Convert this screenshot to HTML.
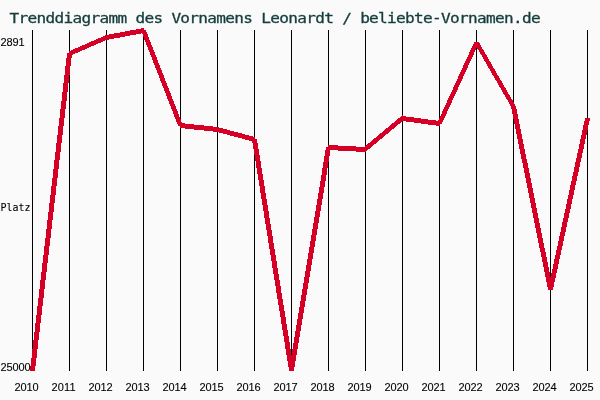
<!DOCTYPE html>
<html lang="de"><head><meta charset="utf-8"><title>Trenddiagramm des Vornamens Leonardt</title>
<style>html,body{margin:0;padding:0;background:#fafafa;}svg{display:block}.t{font-family:"DejaVu Sans Mono","Liberation Mono",monospace;font-size:14px;fill:#153d3d;stroke:#153d3d;stroke-width:0.3px}.l{font-family:"DejaVu Sans Mono","Liberation Mono",monospace;font-size:10.5px;fill:#000;stroke:#000;stroke-width:0.1px}.n{font-family:"Liberation Sans","DejaVu Sans",sans-serif;font-size:11px;fill:#000;stroke:#000;stroke-width:0.1px}</style></head><body>
<svg width="600" height="400" viewBox="0 0 600 400">
<rect width="600" height="400" fill="#fafafa"/>
<g fill="#000" shape-rendering="crispEdges">
<rect x="32" y="30" width="1" height="341"/>
<rect x="69" y="30" width="1" height="341"/>
<rect x="106" y="30" width="1" height="341"/>
<rect x="143" y="30" width="1" height="341"/>
<rect x="180" y="30" width="1" height="341"/>
<rect x="217" y="30" width="1" height="341"/>
<rect x="254" y="30" width="1" height="341"/>
<rect x="291" y="30" width="1" height="341"/>
<rect x="328" y="30" width="1" height="341"/>
<rect x="365" y="30" width="1" height="341"/>
<rect x="402" y="30" width="1" height="341"/>
<rect x="439" y="30" width="1" height="341"/>
<rect x="476" y="30" width="1" height="341"/>
<rect x="513" y="30" width="1" height="341"/>
<rect x="550" y="30" width="1" height="341"/>
<rect x="587" y="30" width="1" height="341"/>
</g>
<g fill="#d60027" shape-rendering="crispEdges">
<polygon points="29.94,371.00 34.94,371.00 72.06,53.00 67.06,53.00"/>
<polygon points="69.00,51.22 107.00,34.78 107.00,39.78 69.00,56.22"/>
<polygon points="106.00,35.09 144.00,27.91 144.00,32.91 106.00,40.09"/>
<polygon points="140.81,30.00 145.81,30.00 183.19,126.00 178.19,126.00"/>
<polygon points="180.00,122.95 218.00,127.05 218.00,132.05 180.00,127.95"/>
<polygon points="217.00,126.86 255.00,137.14 255.00,142.14 217.00,131.86"/>
<polygon points="251.92,139.00 256.92,139.00 294.08,371.00 289.08,371.00"/>
<polygon points="288.92,371.00 293.92,371.00 331.08,147.00 326.08,147.00"/>
<polygon points="328.00,144.97 366.00,147.03 366.00,152.03 328.00,149.97"/>
<polygon points="365.00,146.42 403.00,114.58 403.00,120.58 365.00,152.42"/>
<polygon points="402.00,115.93 440.00,121.07 440.00,126.07 402.00,120.93"/>
<polygon points="436.77,124.00 441.77,124.00 479.23,42.00 474.23,42.00"/>
<polygon points="473.71,42.00 478.71,42.00 516.29,107.00 511.29,107.00"/>
<polygon points="510.90,106.00 515.90,106.00 553.10,290.00 548.10,290.00"/>
<polygon points="547.89,290.00 552.89,290.00 590.11,118.00 585.11,118.00"/>
</g>
<text class="t" transform="translate(9.6,22.5) scale(1.150,1)" x="0" y="0" textLength="461.74" lengthAdjust="spacing">Trenddiagramm des Vornamens Leonardt / beliebte-Vornamen.de</text>
<text class="n" x="0.5" y="46" textLength="24" lengthAdjust="spacing">2891</text>
<text class="l" x="0.5" y="211" textLength="30" lengthAdjust="spacingAndGlyphs">Platz</text>
<text class="n" x="0.5" y="371" textLength="30" lengthAdjust="spacing">25000</text>
<text class="n" x="14.5" y="391" textLength="24" lengthAdjust="spacing">2010</text>
<text class="n" x="51.5" y="391" textLength="24" lengthAdjust="spacing">2011</text>
<text class="n" x="88.5" y="391" textLength="24" lengthAdjust="spacing">2012</text>
<text class="n" x="125.5" y="391" textLength="24" lengthAdjust="spacing">2013</text>
<text class="n" x="162.5" y="391" textLength="24" lengthAdjust="spacing">2014</text>
<text class="n" x="199.5" y="391" textLength="24" lengthAdjust="spacing">2015</text>
<text class="n" x="236.5" y="391" textLength="24" lengthAdjust="spacing">2016</text>
<text class="n" x="273.5" y="391" textLength="24" lengthAdjust="spacing">2017</text>
<text class="n" x="310.5" y="391" textLength="24" lengthAdjust="spacing">2018</text>
<text class="n" x="347.5" y="391" textLength="24" lengthAdjust="spacing">2019</text>
<text class="n" x="384.5" y="391" textLength="24" lengthAdjust="spacing">2020</text>
<text class="n" x="421.5" y="391" textLength="24" lengthAdjust="spacing">2021</text>
<text class="n" x="458.5" y="391" textLength="24" lengthAdjust="spacing">2022</text>
<text class="n" x="495.5" y="391" textLength="24" lengthAdjust="spacing">2023</text>
<text class="n" x="532.5" y="391" textLength="24" lengthAdjust="spacing">2024</text>
<text class="n" x="569.5" y="391" textLength="24" lengthAdjust="spacing">2025</text>
</svg></body></html>
